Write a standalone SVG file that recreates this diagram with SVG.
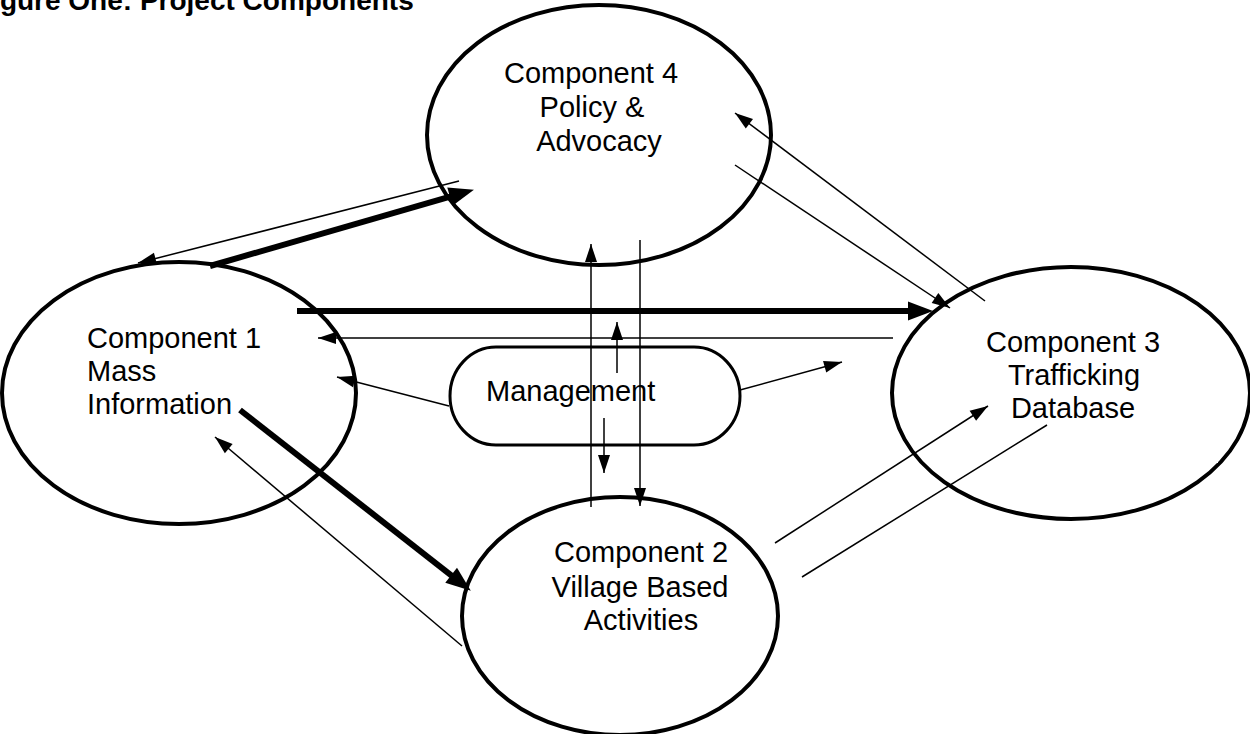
<svg xmlns="http://www.w3.org/2000/svg" width="1250" height="734" viewBox="0 0 1250 734">
  <style>
    .node { fill: #fff; stroke: #000; stroke-width: 4; }
    .box { fill: #fff; stroke: #000; stroke-width: 3; }
    .lbl { font-family: "Liberation Sans", Arial, sans-serif; font-size: 29px; fill: #000; }
    .mid { text-anchor: middle; }
    .title { font-family: "Liberation Sans", Arial, sans-serif; font-size: 28px; font-weight: bold; fill: #000; }
    .thin { stroke: #000; stroke-width: 1.5; fill: none; marker-end: url(#arrowThin); }
    .plain { stroke: #000; stroke-width: 1.5; fill: none; }
    .thick { stroke: #000; stroke-width: 6; fill: none; marker-end: url(#arrowThick); }
  </style>
  <defs>
    <marker id="arrowThin" markerUnits="userSpaceOnUse" markerWidth="18" markerHeight="12" refX="18" refY="6" orient="auto" overflow="visible">
      <path d="M0,0 L18,6 L0,12 z" fill="#000"/>
    </marker>
    <marker id="arrowThick" markerUnits="userSpaceOnUse" markerWidth="25" markerHeight="19" refX="3" refY="9.5" orient="auto" overflow="visible">
      <path d="M0,0 L25,9.5 L0,19 z" fill="#000"/>
    </marker>
  </defs>

  <rect width="1250" height="734" fill="#fff"/>

  <text class="title" x="-25" y="10">Figure One: Project Components</text>

  <!-- Component nodes -->
  <g id="component4">
    <ellipse class="node" cx="599" cy="135" rx="172" ry="130"/>
    <text class="lbl mid" x="591" y="83">Component 4</text>
    <text class="lbl mid" x="592" y="117">Policy &amp;</text>
    <text class="lbl mid" x="599" y="151">Advocacy</text>
  </g>

  <g id="component1">
    <ellipse class="node" cx="179" cy="393" rx="177" ry="131"/>
    <text class="lbl" x="87" y="348">Component 1</text>
    <text class="lbl" x="87" y="381">Mass</text>
    <text class="lbl" x="87" y="414">Information</text>
  </g>

  <g id="component3">
    <ellipse class="node" cx="1071" cy="393" rx="179" ry="126"/>
    <!-- small breaks in the outline -->
    <rect x="927" y="457" width="5" height="4" fill="#fff"/>
    <rect x="1214" y="458" width="4" height="5" fill="#fff"/>
    <text class="lbl mid" x="1073" y="352">Component 3</text>
    <text class="lbl mid" x="1074" y="385">Trafficking</text>
    <text class="lbl mid" x="1073" y="418">Database</text>
  </g>

  <g id="component2">
    <ellipse class="node" cx="620" cy="616" rx="158" ry="119"/>
    <text class="lbl mid" x="641" y="562">Component 2</text>
    <text class="lbl mid" x="640" y="597">Village Based</text>
    <text class="lbl mid" x="641" y="630">Activities</text>
  </g>

  <g id="management">
    <rect class="box" x="450" y="347" width="290" height="98" rx="46" ry="49"/>
    <text class="lbl" x="486" y="401">Management</text>
  </g>

  <!-- Connectors -->
  <g id="connectors">
    <line class="thick" x1="210" y1="266" x2="452.8" y2="195.8"/>
    <line class="thick" x1="297" y1="311" x2="911" y2="311"/>
    <line class="thick" x1="240" y1="410" x2="453.5" y2="577.1"/>

    <line class="thin" x1="459" y1="181" x2="138" y2="263"/>
    <line class="thin" x1="893" y1="338" x2="318" y2="338"/>
    <line class="thin" x1="591" y1="507" x2="591" y2="244"/>
    <line class="thin" x1="640" y1="240" x2="640" y2="506"/>
    <line class="thin" x1="617" y1="373" x2="617" y2="322"/>
    <line class="thin" x1="604" y1="418" x2="604" y2="473"/>
    <line class="thin" x1="449" y1="406" x2="337" y2="377"/>
    <line class="thin" x1="740" y1="390" x2="842" y2="362"/>
    <line class="thin" x1="462" y1="646" x2="215" y2="437"/>
    <line class="thin" x1="985" y1="301" x2="735" y2="113"/>
    <line class="thin" x1="735" y1="165" x2="950" y2="308"/>
    <line class="thin" x1="775" y1="543" x2="988" y2="406"/>
    <line class="plain" x1="802" y1="577" x2="1047" y2="425"/>
  </g>
</svg>
